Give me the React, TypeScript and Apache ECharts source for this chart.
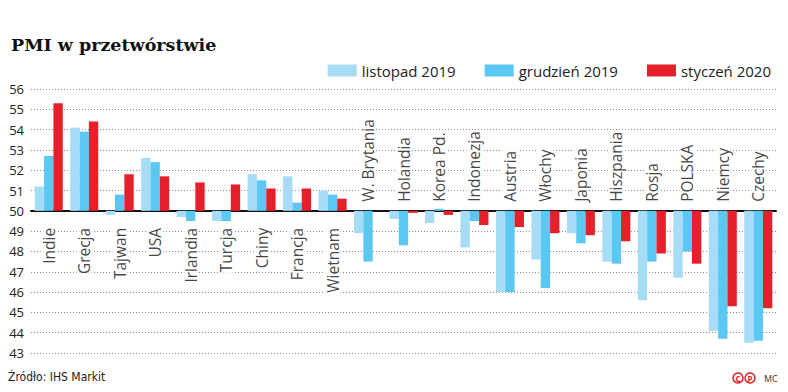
import React, { useEffect, useRef } from "react";
import * as echarts from "echarts";

const categories = [
  "Indie", "Grecja", "Tajwan", "USA", "Irlandia", "Turcja", "Chiny", "Francja", "Wietnam",
  "W. Brytania", "Holandia", "Korea Pd.", "Indonezja", "Austria", "Włochy", "Japonia",
  "Hiszpania", "Rosja", "POLSKA", "Niemcy", "Czechy",
];
const nov2019 = [51.2, 54.1, 49.8, 52.6, 49.7, 49.5, 51.8, 51.7, 51.0, 48.9, 49.6, 49.4, 48.2, 46.0, 47.6, 48.9, 47.5, 45.6, 46.7, 44.1, 43.5];
const dec2019 = [52.7, 53.9, 50.8, 52.4, 49.5, 49.5, 51.5, 50.4, 50.8, 47.5, 48.3, 50.1, 49.5, 46.0, 46.2, 48.4, 47.4, 47.5, 48.0, 43.7, 43.6];
const jan2020 = [55.3, 54.4, 51.8, 51.7, 51.4, 51.3, 51.1, 51.1, 50.6, 50.0, 49.9, 49.8, 49.3, 49.2, 48.9, 48.8, 48.5, 47.9, 47.4, 45.3, 45.2];
const seriesNames = ["listopad 2019", "grudzień 2019", "styczeń 2020"];
const BASE = 50;
const Y_MIN = 43;
const Y_MAX = 56;

const COLORS = ["#a6dcf6", "#5bc7f3", "#e6202a"];
const FONT = "'Open Sans', 'Noto Sans', sans-serif";

export default function App() {
  const ref = useRef<HTMLDivElement>(null);
  useEffect(() => {
    if (!ref.current) return;
    const chart = echarts.init(ref.current, null, { renderer: "svg" });
    const below = jan2020.map((v) => v > BASE);
    const mk = (arr: number[], i: number) => ({
      name: seriesNames[i],
      type: "bar",
      z: 3,
      data: arr.map((v) => +(v - BASE).toFixed(2)),
      itemStyle: { color: COLORS[i] },
      barGap: "0%",
      barCategoryGap: "21%",
    });
    const labelSeries = {
      type: "scatter",
      symbolSize: 0,
      silent: true,
      z: 5,
      data: categories.map((c, i) => ({
        value: [c, 0],
        label: below[i]
          ? { show: true, formatter: c, position: [0, 16], rotate: 90, align: "right", verticalAlign: "middle" }
          : { show: true, formatter: c, position: [0, -8], rotate: 90, align: "left", verticalAlign: "middle" },
      })),
      label: {
        fontFamily: FONT,
        fontSize: 15.5,
        color: "#111",
        backgroundColor: "#ffffff",
        padding: [0, 1, 0, 1],
      },
    };
    chart.setOption({
      animation: false,
      backgroundColor: "#ffffff",
      title: {
        text: "PMI w przetwórstwie",
        left: 6,
        top: 31,
        textStyle: { fontFamily: "'DejaVu Serif', serif", fontWeight: "bold", fontSize: 17.5, color: "#111" },
      },
      legend: {
        right: 12,
        top: 58,
        icon: "rect",
        itemWidth: 29,
        itemHeight: 12,
        itemGap: 29,
        textStyle: { fontFamily: FONT, fontSize: 15, color: "#222" },
        data: seriesNames,
      },
      grid: { left: 31, right: 12, top: 89, bottom: 39, containLabel: false, outerBoundsMode: "none" },
      xAxis: {
        type: "category",
        data: categories,
        axisLine: { show: true, onZero: true, lineStyle: { color: "#111", width: 2 } },
        axisTick: { show: false },
        axisLabel: { show: false },
        splitLine: { show: false },
        z: 2,
      },
      yAxis: {
        type: "value",
        min: Y_MIN - BASE,
        max: Y_MAX - BASE,
        interval: 1,
        axisLine: { show: false },
        axisTick: { show: false },
        axisLabel: {
          margin: 7,
          fontFamily: FONT,
          fontSize: 13,
          color: "#222",
          formatter: (v: number) => String(v + BASE),
        },
        splitLine: { show: true, lineStyle: { color: "#8a8a8a", type: [1, 2], width: 1 } },
      },
      series: [mk(nov2019, 0), mk(dec2019, 1), mk(jan2020, 2), labelSeries],
      graphic: [
        {
          type: "text",
          left: 8,
          top: 371,
          style: { text: "Źródło: IHS Markit", fontFamily: "'DejaVu Sans Condensed', 'Open Sans', sans-serif", fontSize: 12, fill: "#222" },
        },
        { type: "circle", shape: { cx: 738, cy: 378, r: 5 }, style: { fill: "none", stroke: "#e31b23", lineWidth: 1.5 } },
        { type: "text", x: 738, y: 378, style: { text: "C", fontFamily: FONT, fontSize: 8, fontWeight: "bold", fill: "#e31b23", align: "center", verticalAlign: "middle" } },
        { type: "circle", shape: { cx: 750, cy: 378, r: 5 }, style: { fill: "none", stroke: "#e31b23", lineWidth: 1.5 } },
        { type: "text", x: 750, y: 378, style: { text: "P", fontFamily: FONT, fontSize: 8, fontWeight: "bold", fill: "#e31b23", align: "center", verticalAlign: "middle" } },
        { type: "text", x: 764, y: 378, style: { text: "MC", fontFamily: FONT, fontSize: 9, fill: "#333", verticalAlign: "middle" } },
      ],
    });
    return () => chart.dispose();
  }, []);
  return <div ref={ref} style={{ width: 788, height: 392, position: "absolute", left: 0, top: 0 }} />;
}
